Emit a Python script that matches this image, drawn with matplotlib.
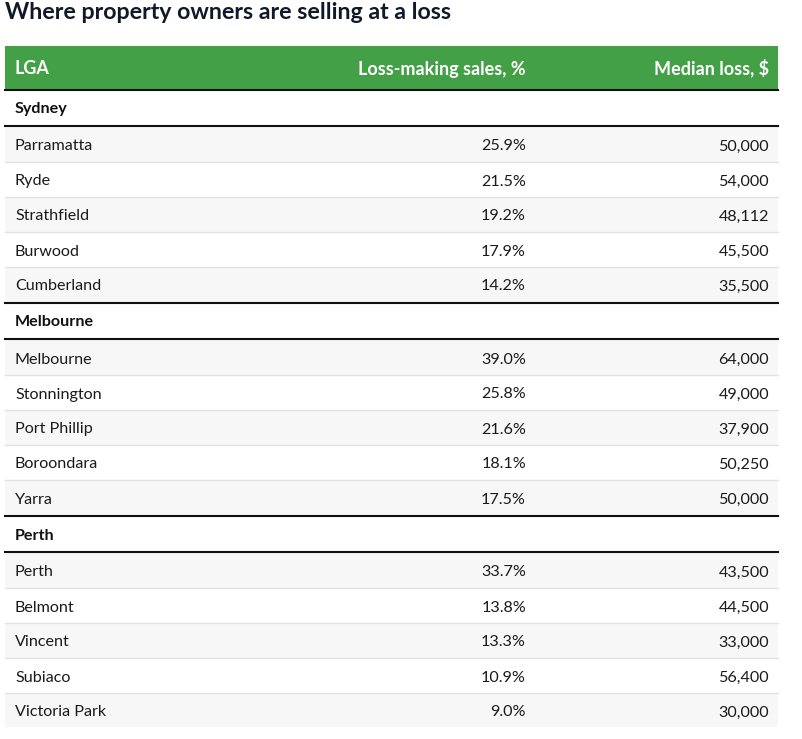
import matplotlib
matplotlib.use("Agg")
import matplotlib.pyplot as plt
from matplotlib.patches import Rectangle

plt.rcParams['font.family'] = ['Lato', 'DejaVu Sans']

title = "Where property owners are selling at a loss"
columns = ["LGA", "Loss-making sales, %", "Median loss, $"]

sydney_names = ["Parramatta", "Ryde", "Strathfield", "Burwood", "Cumberland"]
sydney_pct = ["25.9%", "21.5%", "19.2%", "17.9%", "14.2%"]
sydney_loss = ["50,000", "54,000", "48,112", "45,500", "35,500"]

melbourne_names = ["Melbourne", "Stonnington", "Port Phillip", "Boroondara", "Yarra"]
melbourne_pct = ["39.0%", "25.8%", "21.6%", "18.1%", "17.5%"]
melbourne_loss = ["64,000", "49,000", "37,900", "50,250", "50,000"]

perth_names = ["Perth", "Belmont", "Vincent", "Subiaco", "Victoria Park"]
perth_pct = ["33.7%", "13.8%", "13.3%", "10.9%", "9.0%"]
perth_loss = ["43,500", "44,500", "33,000", "56,400", "30,000"]

groups = [
    ("Sydney", sydney_names, sydney_pct, sydney_loss),
    ("Melbourne", melbourne_names, melbourne_pct, melbourne_loss),
    ("Perth", perth_names, perth_pct, perth_loss),
]

# table geometry in image pixels
left, right = 5, 778
col_name, col_pct, col_loss = 15, 526, 769
row_h = 35
group_h = 36
table_bottom = 727
text_color = "#1a1a1a"

fig = plt.figure(figsize=(8.02, 7.39), dpi=100)
ax = fig.add_axes([0, 0, 1, 1])
ax.set_xlim(0, 802)
ax.set_ylim(739, 0)
ax.axis("off")

ax.text(5, 19, title, fontsize=16.7, fontweight="bold", color="#111827", va="baseline")

# header
ax.add_patch(Rectangle((left, 46), right - left, 44, color="#43a047", lw=0))
ax.plot([left, right], [90, 90], color="#111111", lw=1.5)
ax.text(col_name, 74.5, columns[0], fontsize=13, fontweight="bold", color="white", va="baseline")
ax.text(col_pct, 74.5, columns[1], fontsize=13, fontweight="bold", color="white", va="baseline", ha="right")
ax.text(col_loss, 74.5, columns[2], fontsize=13, fontweight="bold", color="white", va="baseline", ha="right")

y = 90.5
for g_i, (group, names, pct, loss) in enumerate(groups):
    ax.text(col_name, y + 23, group, fontsize=11.6, fontweight="bold", color="#111111", va="baseline")
    y += group_h - 0.5
    ax.plot([left, right], [y, y], color="#111111", lw=1.5)
    y += 1
    for i in range(len(names)):
        if i % 2 == 0:
            ax.add_patch(Rectangle((left, y), right - left, min(row_h, table_bottom - y), color="#f7f7f7", lw=0))
        if i < len(names) - 1:
            ax.plot([left, right], [y + row_h, y + row_h], color="#e2e2e2", lw=1)
        base = y + 23.5
        ax.text(col_name, base, names[i], fontsize=11.6, color=text_color, va="baseline")
        ax.text(col_pct, base, pct[i], fontsize=11.6, color=text_color, va="baseline", ha="right")
        ax.text(col_loss, base, loss[i], fontsize=11.6, color=text_color, va="baseline", ha="right")
        y += row_h
    if g_i < len(groups) - 1:
        ax.plot([left, right], [y + 1, y + 1], color="#111111", lw=1.5)
        y += 1.5

fig.savefig("out.png", dpi=100)
